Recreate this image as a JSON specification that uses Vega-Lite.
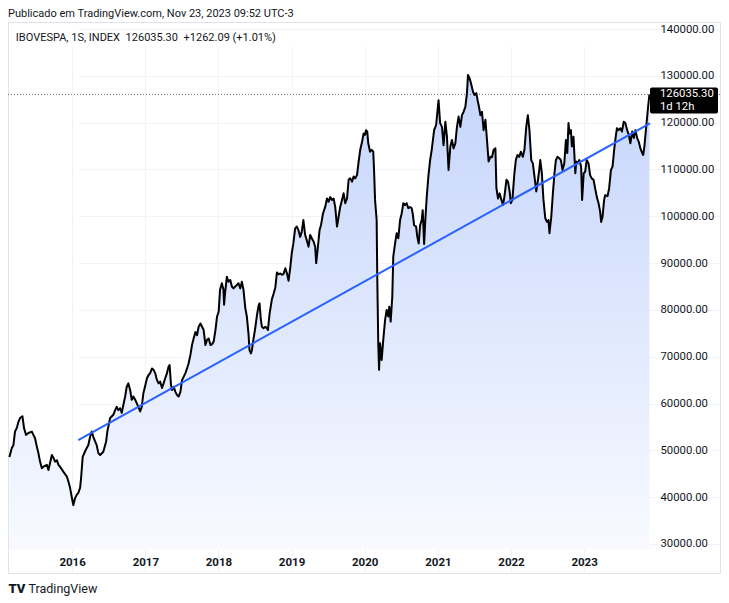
{
  "$schema": "https://vega.github.io/schema/vega-lite/v6.json",
  "width": 712,
  "height": 551,
  "autosize": "none",
  "padding": {"left": 8, "top": 22, "right": 9, "bottom": 30},
  "background": "white",
  "title": {
    "text": "Publicado em TradingView.com, Nov 23, 2023 09:52 UTC-3",
    "subtitle": "\u200d\u2002\u2009IBOVESPA, 1S, INDEX\u2002126035.30\u2002+1262.09 (+1.01%)",
    "anchor": "start",
    "frame": "group",
    "orient": "top",
    "offset": -21,
    "font": "Roboto",
    "fontSize": 11,
    "fontWeight": "normal",
    "color": "#131722",
    "subtitleFont": "Roboto",
    "subtitleFontSize": 11,
    "subtitleColor": "#131722",
    "subtitlePadding": 13
  },
  "datasets": {
    "ibov": [
      {"date": "2015-02-22", "close": 48600}, {"date": "2015-03-06", "close": 50500}, {"date": "2015-03-14", "close": 51100},
      {"date": "2015-03-22", "close": 54000}, {"date": "2015-03-31", "close": 54800}, {"date": "2015-04-08", "close": 56100},
      {"date": "2015-04-16", "close": 56900}, {"date": "2015-04-28", "close": 57300}, {"date": "2015-05-06", "close": 54800},
      {"date": "2015-05-16", "close": 53300}, {"date": "2015-05-28", "close": 53700}, {"date": "2015-06-14", "close": 54000},
      {"date": "2015-06-30", "close": 52600}, {"date": "2015-07-09", "close": 50800}, {"date": "2015-07-17", "close": 49400},
      {"date": "2015-07-25", "close": 47600}, {"date": "2015-08-03", "close": 46200}, {"date": "2015-08-11", "close": 46500},
      {"date": "2015-08-28", "close": 46900}, {"date": "2015-09-05", "close": 45800}, {"date": "2015-09-13", "close": 47300},
      {"date": "2015-09-22", "close": 49000}, {"date": "2015-09-30", "close": 48400}, {"date": "2015-10-08", "close": 47600},
      {"date": "2015-10-17", "close": 47900}, {"date": "2015-10-25", "close": 46900}, {"date": "2015-11-02", "close": 46500},
      {"date": "2015-11-19", "close": 45400}, {"date": "2015-12-06", "close": 44400}, {"date": "2015-12-14", "close": 43300},
      {"date": "2015-12-22", "close": 42000}, {"date": "2015-12-30", "close": 40100},
      {"date": "2016-01-07", "close": 38300}, {"date": "2016-01-16", "close": 39800}, {"date": "2016-01-24", "close": 40500},
      {"date": "2016-02-01", "close": 40900}, {"date": "2016-02-10", "close": 42000}, {"date": "2016-02-15", "close": 44100},
      {"date": "2016-02-23", "close": 48600}, {"date": "2016-03-05", "close": 49700}, {"date": "2016-03-14", "close": 50500},
      {"date": "2016-03-22", "close": 51100}, {"date": "2016-03-31", "close": 52900}, {"date": "2016-04-08", "close": 54000},
      {"date": "2016-04-16", "close": 52900}, {"date": "2016-04-25", "close": 51900}, {"date": "2016-05-03", "close": 51100},
      {"date": "2016-05-11", "close": 49400}, {"date": "2016-05-20", "close": 49000}, {"date": "2016-06-05", "close": 49700},
      {"date": "2016-06-19", "close": 51900}, {"date": "2016-06-25", "close": 54000}, {"date": "2016-07-09", "close": 56900},
      {"date": "2016-07-25", "close": 57600}, {"date": "2016-08-03", "close": 58600}, {"date": "2016-08-11", "close": 59300},
      {"date": "2016-08-19", "close": 58600}, {"date": "2016-08-28", "close": 59000}, {"date": "2016-09-05", "close": 58000},
      {"date": "2016-09-13", "close": 59700}, {"date": "2016-09-22", "close": 61500}, {"date": "2016-09-30", "close": 63600},
      {"date": "2016-10-08", "close": 64300}, {"date": "2016-10-17", "close": 62900}, {"date": "2016-10-25", "close": 60800},
      {"date": "2016-11-02", "close": 61500}, {"date": "2016-11-11", "close": 60800}, {"date": "2016-11-19", "close": 60100},
      {"date": "2016-11-27", "close": 59300}, {"date": "2016-12-06", "close": 58300}, {"date": "2016-12-14", "close": 59300},
      {"date": "2016-12-22", "close": 62200}, {"date": "2016-12-30", "close": 63600},
      {"date": "2017-01-09", "close": 65400}, {"date": "2017-01-17", "close": 66100}, {"date": "2017-01-25", "close": 66500},
      {"date": "2017-02-03", "close": 67500}, {"date": "2017-02-11", "close": 67200}, {"date": "2017-02-19", "close": 66500},
      {"date": "2017-02-28", "close": 65000}, {"date": "2017-03-08", "close": 64300}, {"date": "2017-03-16", "close": 64700},
      {"date": "2017-03-25", "close": 63300}, {"date": "2017-04-02", "close": 64300}, {"date": "2017-04-10", "close": 65400},
      {"date": "2017-04-19", "close": 66500}, {"date": "2017-04-27", "close": 67900}, {"date": "2017-05-02", "close": 68200},
      {"date": "2017-05-09", "close": 64000}, {"date": "2017-05-14", "close": 62900}, {"date": "2017-05-22", "close": 63600},
      {"date": "2017-05-31", "close": 62500}, {"date": "2017-06-08", "close": 61800}, {"date": "2017-06-16", "close": 61500},
      {"date": "2017-06-25", "close": 62500}, {"date": "2017-07-03", "close": 65000}, {"date": "2017-07-11", "close": 65700},
      {"date": "2017-07-20", "close": 66500}, {"date": "2017-07-28", "close": 67500}, {"date": "2017-08-05", "close": 68600},
      {"date": "2017-08-14", "close": 70400}, {"date": "2017-08-22", "close": 72500}, {"date": "2017-08-30", "close": 73900},
      {"date": "2017-09-08", "close": 75300}, {"date": "2017-09-16", "close": 74600}, {"date": "2017-09-24", "close": 76400},
      {"date": "2017-10-03", "close": 77100}, {"date": "2017-10-11", "close": 76400}, {"date": "2017-10-19", "close": 75700},
      {"date": "2017-10-28", "close": 72500}, {"date": "2017-11-05", "close": 73600}, {"date": "2017-11-13", "close": 73900},
      {"date": "2017-11-22", "close": 72500}, {"date": "2017-11-30", "close": 72700}, {"date": "2017-12-08", "close": 73200},
      {"date": "2017-12-17", "close": 75700}, {"date": "2017-12-25", "close": 78600},
      {"date": "2018-01-02", "close": 79600}, {"date": "2018-01-09", "close": 84300}, {"date": "2018-01-18", "close": 85700},
      {"date": "2018-01-26", "close": 84300}, {"date": "2018-01-29", "close": 81100}, {"date": "2018-02-03", "close": 83600},
      {"date": "2018-02-12", "close": 87100}, {"date": "2018-02-20", "close": 86000}, {"date": "2018-03-01", "close": 86400},
      {"date": "2018-03-09", "close": 85000}, {"date": "2018-03-17", "close": 84600}, {"date": "2018-03-26", "close": 85000},
      {"date": "2018-04-03", "close": 85300}, {"date": "2018-04-11", "close": 85700}, {"date": "2018-04-20", "close": 84600},
      {"date": "2018-04-28", "close": 86000}, {"date": "2018-05-06", "close": 84300}, {"date": "2018-05-15", "close": 80400},
      {"date": "2018-05-23", "close": 78500}, {"date": "2018-05-31", "close": 74900}, {"date": "2018-06-05", "close": 71400},
      {"date": "2018-06-12", "close": 70700}, {"date": "2018-06-17", "close": 71400}, {"date": "2018-06-25", "close": 73800},
      {"date": "2018-07-03", "close": 75900}, {"date": "2018-07-12", "close": 78800}, {"date": "2018-07-20", "close": 80800},
      {"date": "2018-07-25", "close": 81400}, {"date": "2018-08-01", "close": 77800}, {"date": "2018-08-06", "close": 76400},
      {"date": "2018-08-14", "close": 76100}, {"date": "2018-08-23", "close": 76400}, {"date": "2018-08-31", "close": 76100},
      {"date": "2018-09-05", "close": 75700}, {"date": "2018-09-13", "close": 79100}, {"date": "2018-09-25", "close": 82300},
      {"date": "2018-10-03", "close": 83400}, {"date": "2018-10-12", "close": 84800}, {"date": "2018-10-20", "close": 88000},
      {"date": "2018-10-28", "close": 87600}, {"date": "2018-11-06", "close": 87800}, {"date": "2018-11-14", "close": 87500},
      {"date": "2018-11-22", "close": 87700}, {"date": "2018-12-01", "close": 88900}, {"date": "2018-12-09", "close": 87800},
      {"date": "2018-12-17", "close": 86200}, {"date": "2018-12-26", "close": 89200},
      {"date": "2019-01-02", "close": 92100}, {"date": "2019-01-10", "close": 94200}, {"date": "2019-01-19", "close": 97400},
      {"date": "2019-01-27", "close": 97800}, {"date": "2019-02-04", "close": 97100}, {"date": "2019-02-13", "close": 95600},
      {"date": "2019-02-21", "close": 96700}, {"date": "2019-03-01", "close": 99200}, {"date": "2019-03-10", "close": 96000},
      {"date": "2019-03-18", "close": 94900}, {"date": "2019-03-27", "close": 93500}, {"date": "2019-04-04", "close": 96000},
      {"date": "2019-04-12", "close": 95300}, {"date": "2019-04-21", "close": 94600}, {"date": "2019-04-29", "close": 93500},
      {"date": "2019-05-04", "close": 90000}, {"date": "2019-05-11", "close": 92800}, {"date": "2019-05-21", "close": 97100},
      {"date": "2019-05-28", "close": 98100}, {"date": "2019-06-07", "close": 100600}, {"date": "2019-06-18", "close": 102000},
      {"date": "2019-06-27", "close": 103800}, {"date": "2019-07-05", "close": 103100}, {"date": "2019-07-13", "close": 104100},
      {"date": "2019-07-22", "close": 103500}, {"date": "2019-07-30", "close": 103800}, {"date": "2019-08-07", "close": 102000},
      {"date": "2019-08-16", "close": 97800}, {"date": "2019-08-24", "close": 99900}, {"date": "2019-09-01", "close": 102000},
      {"date": "2019-09-10", "close": 103500}, {"date": "2019-09-18", "close": 104900}, {"date": "2019-09-26", "close": 102800},
      {"date": "2019-10-05", "close": 103800}, {"date": "2019-10-13", "close": 107800}, {"date": "2019-10-21", "close": 108100},
      {"date": "2019-10-30", "close": 107400}, {"date": "2019-11-07", "close": 108500}, {"date": "2019-11-15", "close": 108100},
      {"date": "2019-11-24", "close": 108800}, {"date": "2019-12-02", "close": 111700}, {"date": "2019-12-10", "close": 114200},
      {"date": "2019-12-19", "close": 115900}, {"date": "2019-12-27", "close": 117700},
      {"date": "2020-01-03", "close": 117400}, {"date": "2020-01-08", "close": 118400}, {"date": "2020-01-14", "close": 118100},
      {"date": "2020-01-19", "close": 115600}, {"date": "2020-01-28", "close": 113800}, {"date": "2020-02-05", "close": 114200},
      {"date": "2020-02-13", "close": 113800}, {"date": "2020-02-17", "close": 109900}, {"date": "2020-02-22", "close": 103500},
      {"date": "2020-03-01", "close": 99200}, {"date": "2020-03-04", "close": 87100}, {"date": "2020-03-09", "close": 72900},
      {"date": "2020-03-13", "close": 67200}, {"date": "2020-03-18", "close": 72900}, {"date": "2020-03-26", "close": 69300},
      {"date": "2020-04-03", "close": 73600}, {"date": "2020-04-12", "close": 77800}, {"date": "2020-04-20", "close": 80000},
      {"date": "2020-04-28", "close": 78600}, {"date": "2020-05-03", "close": 80700}, {"date": "2020-05-10", "close": 77500},
      {"date": "2020-05-18", "close": 82800}, {"date": "2020-05-23", "close": 91400}, {"date": "2020-06-01", "close": 94200},
      {"date": "2020-06-09", "close": 96400}, {"date": "2020-06-17", "close": 95300}, {"date": "2020-06-26", "close": 99200},
      {"date": "2020-07-04", "close": 100600}, {"date": "2020-07-12", "close": 102800}, {"date": "2020-07-21", "close": 102400},
      {"date": "2020-07-29", "close": 102800}, {"date": "2020-08-06", "close": 101700}, {"date": "2020-08-15", "close": 102000},
      {"date": "2020-08-23", "close": 101700}, {"date": "2020-08-28", "close": 100600}, {"date": "2020-09-04", "close": 98100},
      {"date": "2020-09-14", "close": 97800}, {"date": "2020-09-20", "close": 95600}, {"date": "2020-09-27", "close": 94200},
      {"date": "2020-10-04", "close": 98100}, {"date": "2020-10-12", "close": 99200}, {"date": "2020-10-17", "close": 101300},
      {"date": "2020-10-24", "close": 94100}, {"date": "2020-10-30", "close": 99200}, {"date": "2020-11-06", "close": 104100},
      {"date": "2020-11-14", "close": 108400}, {"date": "2020-11-23", "close": 112000}, {"date": "2020-12-01", "close": 114200},
      {"date": "2020-12-13", "close": 118400}, {"date": "2020-12-23", "close": 119500},
      {"date": "2021-01-04", "close": 124800}, {"date": "2021-01-12", "close": 119900}, {"date": "2021-01-21", "close": 119100},
      {"date": "2021-01-29", "close": 115200}, {"date": "2021-02-07", "close": 120200}, {"date": "2021-02-15", "close": 117000},
      {"date": "2021-02-23", "close": 109900}, {"date": "2021-03-04", "close": 114900}, {"date": "2021-03-12", "close": 116300},
      {"date": "2021-03-20", "close": 114500}, {"date": "2021-03-29", "close": 115600}, {"date": "2021-04-06", "close": 119100},
      {"date": "2021-04-14", "close": 121300}, {"date": "2021-04-23", "close": 119100}, {"date": "2021-05-01", "close": 121600},
      {"date": "2021-05-09", "close": 122300}, {"date": "2021-05-18", "close": 123400}, {"date": "2021-05-26", "close": 126300},
      {"date": "2021-05-31", "close": 130200}, {"date": "2021-06-08", "close": 129500}, {"date": "2021-06-15", "close": 128400},
      {"date": "2021-06-25", "close": 126600}, {"date": "2021-07-03", "close": 125900}, {"date": "2021-07-12", "close": 126300},
      {"date": "2021-07-18", "close": 124800}, {"date": "2021-07-25", "close": 123400}, {"date": "2021-08-01", "close": 121600},
      {"date": "2021-08-09", "close": 122300}, {"date": "2021-08-17", "close": 118400}, {"date": "2021-08-26", "close": 120600},
      {"date": "2021-09-03", "close": 116300}, {"date": "2021-09-11", "close": 111700}, {"date": "2021-09-20", "close": 112700},
      {"date": "2021-09-28", "close": 112600}, {"date": "2021-10-06", "close": 114200}, {"date": "2021-10-15", "close": 114500},
      {"date": "2021-10-20", "close": 106000}, {"date": "2021-10-28", "close": 103800}, {"date": "2021-11-05", "close": 104900},
      {"date": "2021-11-14", "close": 103500}, {"date": "2021-11-22", "close": 102400}, {"date": "2021-11-29", "close": 104200},
      {"date": "2021-12-09", "close": 107800}, {"date": "2021-12-17", "close": 107400}, {"date": "2021-12-25", "close": 105300},
      {"date": "2021-12-31", "close": 102800},
      {"date": "2022-01-08", "close": 103500}, {"date": "2022-01-17", "close": 108800}, {"date": "2022-01-25", "close": 112000},
      {"date": "2022-02-02", "close": 113100}, {"date": "2022-02-11", "close": 112700}, {"date": "2022-02-19", "close": 113800},
      {"date": "2022-03-01", "close": 112700}, {"date": "2022-03-09", "close": 114200}, {"date": "2022-03-18", "close": 119100},
      {"date": "2022-03-26", "close": 121600}, {"date": "2022-04-03", "close": 118400}, {"date": "2022-04-12", "close": 112000},
      {"date": "2022-04-20", "close": 111300}, {"date": "2022-04-28", "close": 108500}, {"date": "2022-05-07", "close": 105300},
      {"date": "2022-05-13", "close": 107000}, {"date": "2022-05-22", "close": 109900}, {"date": "2022-05-27", "close": 112000},
      {"date": "2022-06-04", "close": 109200}, {"date": "2022-06-12", "close": 103500}, {"date": "2022-06-21", "close": 99600},
      {"date": "2022-06-29", "close": 98800}, {"date": "2022-07-07", "close": 99200}, {"date": "2022-07-12", "close": 96400},
      {"date": "2022-07-21", "close": 99900}, {"date": "2022-07-29", "close": 104900}, {"date": "2022-08-06", "close": 109200},
      {"date": "2022-08-13", "close": 112000}, {"date": "2022-08-21", "close": 112700}, {"date": "2022-08-30", "close": 112400},
      {"date": "2022-09-07", "close": 112000}, {"date": "2022-09-15", "close": 109900}, {"date": "2022-09-24", "close": 111300},
      {"date": "2022-10-02", "close": 116300}, {"date": "2022-10-09", "close": 113500}, {"date": "2022-10-15", "close": 119900},
      {"date": "2022-10-20", "close": 117700}, {"date": "2022-10-27", "close": 118400}, {"date": "2022-11-01", "close": 114900},
      {"date": "2022-11-09", "close": 117000}, {"date": "2022-11-18", "close": 109200}, {"date": "2022-11-23", "close": 111700},
      {"date": "2022-11-29", "close": 111300}, {"date": "2022-12-08", "close": 112000}, {"date": "2022-12-17", "close": 110600},
      {"date": "2022-12-22", "close": 103500}, {"date": "2022-12-30", "close": 109200},
      {"date": "2023-01-06", "close": 109500}, {"date": "2023-01-14", "close": 112000}, {"date": "2023-01-23", "close": 111300},
      {"date": "2023-01-31", "close": 108800}, {"date": "2023-02-08", "close": 108100}, {"date": "2023-02-17", "close": 107800},
      {"date": "2023-02-25", "close": 106000}, {"date": "2023-03-05", "close": 104200}, {"date": "2023-03-14", "close": 102800},
      {"date": "2023-03-22", "close": 101000}, {"date": "2023-03-27", "close": 98800}, {"date": "2023-04-03", "close": 99900},
      {"date": "2023-04-11", "close": 103500}, {"date": "2023-04-16", "close": 104500}, {"date": "2023-04-28", "close": 104300},
      {"date": "2023-05-06", "close": 106000}, {"date": "2023-05-15", "close": 109900}, {"date": "2023-05-23", "close": 110600},
      {"date": "2023-05-31", "close": 114200}, {"date": "2023-06-09", "close": 117400}, {"date": "2023-06-14", "close": 118800},
      {"date": "2023-06-22", "close": 118400}, {"date": "2023-07-01", "close": 118800}, {"date": "2023-07-09", "close": 118100},
      {"date": "2023-07-18", "close": 120200}, {"date": "2023-07-26", "close": 119900}, {"date": "2023-08-04", "close": 118400},
      {"date": "2023-08-12", "close": 117400}, {"date": "2023-08-20", "close": 115600}, {"date": "2023-08-29", "close": 118100},
      {"date": "2023-09-06", "close": 116700}, {"date": "2023-09-14", "close": 118400}, {"date": "2023-09-23", "close": 116700},
      {"date": "2023-10-01", "close": 115900}, {"date": "2023-10-09", "close": 114500}, {"date": "2023-10-18", "close": 113500},
      {"date": "2023-10-23", "close": 113100}, {"date": "2023-10-29", "close": 114900}, {"date": "2023-11-07", "close": 119100},
      {"date": "2023-11-15", "close": 122700}, {"date": "2023-11-23", "close": 126035.3}
    ],
    "trend": [
      {"date": "2016-02-01", "close": 52200},
      {"date": "2023-11-26", "close": 119860}
    ],
    "last": [
      {"date": "2023-11-26", "close": 126035.3, "label": "126035.30\n1d 12h"}
    ]
  },
  "encoding": {
    "x": {
      "field": "date",
      "type": "temporal",
      "scale": {
        "domain": [{"year": 2015, "month": 2, "date": 15}, {"year": 2023, "month": 11, "date": 26}],
        "range": [0, 642],
        "nice": false
      },
      "axis": {
        "orient": "bottom",
        "offset": -24,
        "format": "%Y",
        "tickCount": {"interval": "year", "step": 1},
        "domain": false,
        "ticks": false,
        "tickSize": 0,
        "labelPadding": 7,
        "labelFont": "Roboto",
        "labelFontSize": 11.5,
        "labelFontWeight": "bold",
        "labelColor": "#131722",
        "labelFlush": false,
        "gridColor": "#f0f3fa",
        "title": "TradingView",
        "titleX": 20,
        "titleY": 39,
        "titleAlign": "left",
        "titleBaseline": "middle",
        "titleFont": "Roboto",
        "titleFontSize": 12.5,
        "titleFontWeight": "normal",
        "titleColor": "#131722"
      }
    },
    "y": {
      "field": "close",
      "type": "quantitative",
      "scale": {"domain": [28930, 141500], "range": [527, 0], "nice": false, "zero": false},
      "axis": {
        "orient": "right",
        "offset": -70,
        "values": [30000, 40000, 50000, 60000, 70000, 80000, 90000, 100000, 110000, 120000, 130000, 140000],
        "format": ".2f",
        "domain": false,
        "ticks": false,
        "tickSize": 0,
        "labelPadding": 10,
        "labelFont": "Roboto",
        "labelFontSize": 11.3,
        "labelColor": "#131722",
        "labelFlush": false,
        "gridColor": "#f0f3fa",
        "title": "TV",
        "titleAngle": 0,
        "titleX": -642,
        "titleY": 566,
        "titleAlign": "left",
        "titleBaseline": "middle",
        "titleFont": "Roboto",
        "titleFontSize": 13,
        "titleFontWeight": 900,
        "titleColor": "#131722"
      }
    }
  },
  "layer": [
    {
      "data": {"name": "ibov"},
      "mark": {
        "type": "area",
        "color": {
          "x1": 0, "y1": 0, "x2": 0, "y2": 1,
          "gradient": "linear",
          "stops": [
            {"offset": 0, "color": "#c4d4fb"},
            {"offset": 1, "color": "#f8faff"}
          ]
        }
      },
      "encoding": {"y2": {"datum": 28930}}
    },
    {
      "data": {"name": "last"},
      "mark": {"type": "rule", "color": "#6a6d78", "strokeWidth": 1, "strokeDash": [1, 2]},
      "encoding": {"x": null}
    },
    {
      "data": {"name": "ibov"},
      "mark": {"type": "line", "color": "#000000", "strokeWidth": 2, "strokeJoin": "round"}
    },
    {
      "data": {"name": "trend"},
      "mark": {"type": "line", "color": "#2962ff", "strokeWidth": 2}
    },
    {
      "data": {"name": "last"},
      "mark": {"type": "tick", "orient": "horizontal", "size": 68, "thickness": 26, "color": "#000000", "opacity": 1, "xOffset": 34, "yOffset": 6, "cornerRadius": 2}
    },
    {
      "data": {"name": "last"},
      "mark": {"type": "text", "align": "left", "baseline": "top", "dx": 10, "dy": -6, "color": "#ffffff", "font": "Roboto", "fontSize": 11.3, "lineBreak": "\n", "lineHeight": 12.5},
      "encoding": {"text": {"field": "label"}}
    }
  ],
  "config": {
    "view": {"stroke": "#e0e3eb"}
  }
}
